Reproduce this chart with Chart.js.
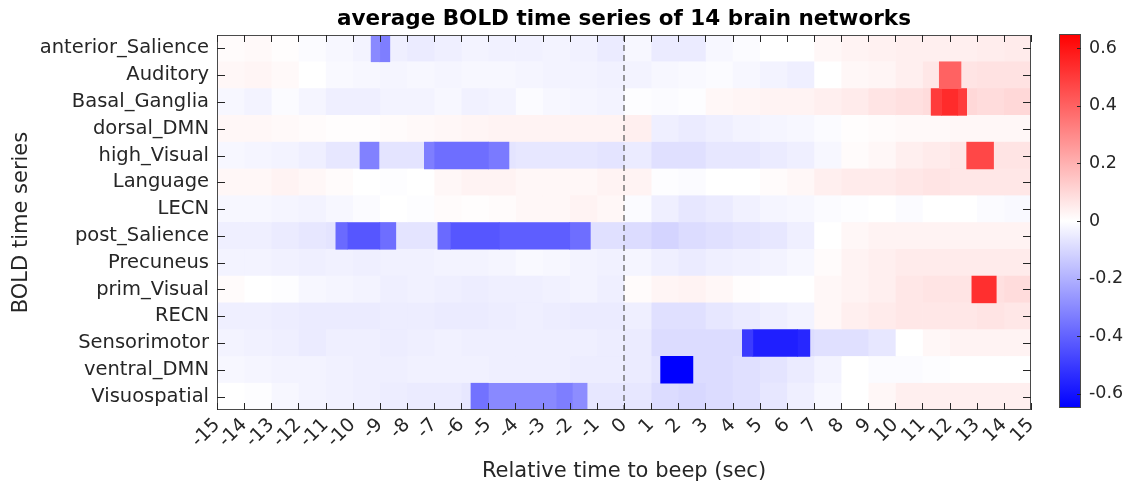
<!DOCTYPE html>
<html><head><meta charset="utf-8">
<script src="https://cdn.jsdelivr.net/npm/chart.js@4/dist/chart.umd.min.js"></script>
<style>html,body{margin:0;padding:0;background:#fff;}#wrap{width:1126px;height:484px;position:relative;}
#c{position:absolute;left:0;top:0;} #cb{position:absolute;left:1040px;top:0;}</style>
</head><body><div id="wrap"><canvas id="c" width="1126" height="484"></canvas><canvas id="cb" width="86" height="484"></canvas></div>
<script>
// ---------- data ----------
const networks = ['anterior_Salience','Auditory','Basal_Ganglia','dorsal_DMN','high_Visual','Language','LECN','post_Salience','Precuneus','prim_Visual','RECN','Sensorimotor','ventral_DMN','Visuospatial'];
const binEdges = [-15,-14,-13,-12,-11,-10,-9,-8,-7,-6,-5,-4,-3,-2,-1,0,1,2,3,4,5,6,7,8,9,10,11,12,13,14,15];
const xTicks = [-15,-14,-13,-12,-11,-10,-9,-8,-7,-6,-5,-4,-3,-2,-1,0,1,2,3,4,5,6,7,8,9,10,11,12,13,14,15];
const colorbarTicks = [-0.6,-0.4,-0.2,0,0.2,0.4,0.6];
const cLim = [-0.65, 0.65];

// one value per 1-s bin (-15..15)
const anterior_Salience = [0.01,0.015,0.005,-0.01,-0.02,-0.03,-0.04,-0.05,-0.04,-0.03,-0.035,-0.035,-0.03,-0.035,-0.05, -0.02,-0.05,-0.05,-0.02,-0.01,0,0,0.02,0.03,0.035,0.04,0.04,0.04,0.045,0.05];
const Auditory = [0.02,0.025,0.015,0,-0.015,-0.02,-0.025,-0.02,-0.025,-0.02,-0.02,-0.025,-0.03,-0.03,-0.035, -0.03,-0.02,-0.015,-0.01,-0.02,-0.03,-0.04,0,0.02,0.025,0.04,0.06,0.07,0.075,0.075];
const Basal_Ganglia = [-0.02,-0.03,-0.01,-0.025,-0.04,-0.04,-0.03,-0.03,-0.02,-0.035,-0.03,-0.01,-0.02,-0.025,-0.03, -0.005,-0.01,-0.005,0.02,0.025,0.03,0.03,0.04,0.05,0.07,0.08,0.09,0.1,0.09,0.1];
const dorsal_DMN = [0.02,0.02,0.015,0.01,0.005,0.005,0.01,0.015,0.02,0.025,0.03,0.03,0.03,0.03,0.03, 0.04,-0.04,-0.05,-0.04,-0.03,-0.025,-0.02,-0.01,0.005,0.01,0.015,0.015,0.02,0.02,0.02];
const high_Visual = [-0.02,-0.025,-0.03,-0.04,-0.06,-0.06,-0.07,-0.07,-0.07,-0.07,-0.07,-0.06,-0.06,-0.06,-0.07, -0.05,-0.08,-0.08,-0.06,-0.06,-0.05,-0.04,-0.02,0.01,0.02,0.04,0.05,0.06,0.07,0.07];
const Language = [0.02,0.02,0.03,0.02,0.01,0,-0.005,0,0.02,0.03,0.03,0.02,0.02,0.02,0.03, 0.03,-0.005,-0.01,0,0,0.01,0.02,0.04,0.05,0.05,0.06,0.07,0.06,0.06,0.06];
const LECN = [-0.02,-0.02,-0.025,-0.03,-0.02,-0.01,0,-0.005,0.01,0.005,0.01,0.02,0.02,0.03,0.02, -0.01,-0.04,-0.06,-0.05,-0.035,-0.025,-0.02,-0.01,-0.005,0,-0.01,0,0,-0.01,-0.015];
const post_Salience = [-0.04,-0.04,-0.05,-0.06,-0.07,-0.07,-0.07,-0.07,-0.07,-0.07,-0.07,-0.07,-0.07,-0.08,-0.08, -0.09,-0.11,-0.09,-0.08,-0.07,-0.06,-0.04,0,0.02,0.03,0.03,0.03,0.03,0.03,0.03];
const Precuneus = [-0.03,-0.03,-0.035,-0.04,-0.035,-0.04,-0.035,-0.035,-0.03,-0.03,-0.025,-0.015,-0.02,-0.03,-0.035, -0.025,-0.04,-0.05,-0.04,-0.035,-0.03,-0.02,0.01,0.03,0.04,0.05,0.05,0.05,0.05,0.05];
const prim_Visual = [0.01,0,-0.005,-0.02,-0.025,-0.03,-0.04,-0.035,-0.04,-0.045,-0.04,-0.04,-0.035,-0.03,-0.04, 0.01,0.025,0.03,0.02,0.005,0,0,0.02,0.03,0.04,0.06,0.07,0.07,0.08,0.09];
const RECN = [-0.04,-0.04,-0.045,-0.05,-0.05,-0.05,-0.045,-0.045,-0.05,-0.05,-0.045,-0.04,-0.045,-0.05,-0.05, -0.04,-0.08,-0.08,-0.06,-0.05,-0.04,-0.03,0.02,0.04,0.05,0.06,0.06,0.06,0.07,0.06];
const Sensorimotor = [-0.03,-0.035,-0.04,-0.05,-0.04,-0.04,-0.045,-0.04,-0.035,-0.04,-0.04,-0.04,-0.04,-0.04,-0.045, -0.05,-0.09,-0.09,-0.09,-0.09,-0.09,-0.09,-0.08,-0.08,-0.06,0,0.02,0.03,0.03,0.03];
const ventral_DMN = [-0.02,-0.025,-0.03,-0.03,-0.035,-0.04,-0.04,-0.035,-0.035,-0.035,-0.04,-0.04,-0.04,-0.045,-0.045, -0.05,-0.07,-0.09,-0.09,-0.08,-0.07,-0.05,-0.03,0,-0.01,-0.01,-0.005,0,0,0];
const Visuospatial = [0,-0.005,-0.02,-0.03,-0.035,-0.04,-0.045,-0.05,-0.05,-0.06,-0.06,-0.06,-0.06,-0.06,-0.06, -0.06,-0.09,-0.1,-0.09,-0.08,-0.06,-0.04,-0.02,0,0.02,0.04,0.04,0.04,0.04,0.04];

const rowValues = [anterior_Salience,Auditory,Basal_Ganglia,dorsal_DMN,high_Visual,Language,LECN,post_Salience,Precuneus,prim_Visual,RECN,Sensorimotor,ventral_DMN,Visuospatial];

// significant stretches: [network, start (s), end (s), value]
const significantBlocks = [
  ['anterior_Salience',-9.32,-9.0,-0.30],['anterior_Salience',-9.0,-8.63,-0.33],
  ['Auditory',11.62,12.42,0.40],
  ['Basal_Ganglia',11.32,11.7,0.50],['Basal_Ganglia',11.7,12.3,0.54],['Basal_Ganglia',12.3,12.63,0.50],
  ['high_Visual',-9.73,-9.03,-0.32],['high_Visual',-7.36,-7.0,-0.33],['high_Visual',-7.0,-5.0,-0.37],['high_Visual',-5.0,-4.24,-0.34],
  ['high_Visual',12.63,13.62,0.47],
  ['post_Salience',-10.62,-10.2,-0.38],['post_Salience',-10.2,-9.0,-0.43],['post_Salience',-9.0,-8.41,-0.37],
  ['post_Salience',-6.86,-6.4,-0.38],['post_Salience',-6.4,-4.6,-0.43],['post_Salience',-4.6,-2.0,-0.41],['post_Salience',-2.0,-1.24,-0.37],
  ['prim_Visual',12.82,13.72,0.53],
  ['Sensorimotor',4.36,4.75,-0.50],['Sensorimotor',4.75,6.4,-0.57],['Sensorimotor',6.4,6.85,-0.55],
  ['ventral_DMN',1.35,2.54,-0.65],
  ['Visuospatial',-5.64,-5.0,-0.36],['Visuospatial',-5.0,-2.5,-0.30],['Visuospatial',-2.5,-1.9,-0.33],['Visuospatial',-1.9,-1.36,-0.29]
];

// ---------- rendering ----------
const FONT = 'DejaVu Sans';
const TXT = '#262626';
function valueColor(v){
  let t = v / cLim[1];
  t = Math.max(-1, Math.min(1, t));
  if (t >= 0){ const g = Math.round(255*(1-t)); return `rgb(255,${g},${g})`; }
  const g = Math.round(255*(1+t)); return `rgb(${g},${g},255)`;
}

const datasets = [];
// significant blocks first so that they are drawn on top
significantBlocks.forEach(b => {
  datasets.push({
    data: networks.map(n => n === b[0] ? [b[1], b[2]] : null),
    backgroundColor: valueColor(b[3])
  });
});
for (let j = 0; j < binEdges.length-1; j++){
  datasets.push({
    data: rowValues.map(() => [binEdges[j], binEdges[j+1]]),
    backgroundColor: rowValues.map(r => valueColor(r[j]))
  });
}

const framePlugin = {
  id: 'frame',
  afterDatasetsDraw(chart){
    const {ctx, chartArea: a, scales} = chart;
    const x = scales.x, y = scales.y;
    ctx.save();
    const x0 = x.getPixelForValue(0);
    ctx.strokeStyle = '#606060'; ctx.lineWidth = 1.3; ctx.setLineDash([6,4]);
    ctx.beginPath(); ctx.moveTo(x0, a.top); ctx.lineTo(x0, a.bottom); ctx.stroke();
    ctx.setLineDash([]);
    ctx.strokeStyle = '#4a4a4a'; ctx.lineWidth = 1;
    ctx.strokeRect(Math.round(a.left)+0.5, Math.round(a.top)+0.5, Math.round(a.right-a.left)-1, Math.round(a.bottom-a.top)-1);
    ctx.strokeStyle = TXT;
    ctx.beginPath();
    xTicks.forEach(v => {
      const px = Math.round(x.getPixelForValue(v))+0.5;
      ctx.moveTo(px, a.top); ctx.lineTo(px, a.top+7);
      ctx.moveTo(px, a.bottom); ctx.lineTo(px, a.bottom-7);
    });
    networks.forEach((n,i) => {
      const py = Math.round(y.getPixelForValue(i))+0.5;
      ctx.moveTo(a.left, py); ctx.lineTo(a.left+8, py);
      ctx.moveTo(a.right, py); ctx.lineTo(a.right-8, py);
    });
    ctx.stroke();
    ctx.restore();
  },
  afterDraw(chart){
    const {ctx, chartArea: a} = chart;
    ctx.save();
    ctx.fillStyle = '#000';
    ctx.font = `bold 21.5px "${FONT}"`;
    ctx.textAlign = 'center'; ctx.textBaseline = 'middle';
    ctx.fillText('average BOLD time series of 14 brain networks', (a.left+a.right)/2, 19);
    ctx.restore();
  }
};

new Chart(document.getElementById('c'), {
  type: 'bar',
  data: { labels: networks, datasets },
  plugins: [framePlugin],
  options: {
    indexAxis: 'y',
    responsive: false, animation: false, devicePixelRatio: 1,
    layout: { padding: { top: 35, left: 0, right: 95, bottom: 0 } },
    plugins: { legend: { display: false }, tooltip: { enabled: false }, title: { display: false } },
    datasets: { bar: { grouped: false, barPercentage: 1, categoryPercentage: 1, borderWidth: 0 } },
    scales: {
      x: {
        type: 'linear', position: 'bottom', min: -15, max: 15,
        afterFit: s => { s.height = 74; },
        afterBuildTicks: s => { s.ticks = xTicks.map(v => ({ value: v })); },
        ticks: { autoSkip: false, minRotation: 45, maxRotation: 45, padding: 4, color: TXT, font: { family: FONT, size: 19 } },
        grid: { display: false, drawTicks: false }, border: { display: false },
        title: { display: true, text: 'Relative time to beep (sec)', color: TXT, font: { family: FONT, size: 21 }, padding: { top: 2, bottom: 0 } }
      },
      y: {
        type: 'category', position: 'left',
        afterFit: s => { s.width = 217; },
        ticks: { padding: 8, color: TXT, font: { family: FONT, size: 19.5 } },
        grid: { display: false, drawTicks: false }, border: { display: false },
        title: { display: true, text: 'BOLD time series', color: TXT, font: { family: FONT, size: 21 }, padding: { top: 9, bottom: 0 } }
      }
    }
  }
});

// ---------- colorbar ----------
const colorbarPlugin = {
  id: 'colorbar',
  beforeDatasetsDraw(chart){
    const {ctx, chartArea: a, scales} = chart;
    const s = scales.y;
    const top = s.getPixelForValue(cLim[1]), bot = s.getPixelForValue(cLim[0]);
    ctx.save();
    const grad = ctx.createLinearGradient(0, top, 0, bot);
    const n = 20;
    for (let k = 0; k <= n; k++){
      const v = cLim[1] - (cLim[1]-cLim[0])*k/n;
      grad.addColorStop(k/n, valueColor(v));
    }
    ctx.fillStyle = grad;
    ctx.fillRect(a.left, top, a.right-a.left, bot-top);
    ctx.strokeStyle = '#4a4a4a'; ctx.lineWidth = 1;
    ctx.strokeRect(Math.round(a.left)+0.5, Math.round(top)+0.5, Math.round(a.right-a.left)-1, Math.round(bot-top)-1);
    ctx.strokeStyle = TXT;
    ctx.beginPath();
    colorbarTicks.forEach(v => {
      const py = Math.round(s.getPixelForValue(v))+0.5;
      ctx.moveTo(a.right, py); ctx.lineTo(a.right-4, py);
    });
    ctx.stroke();
    ctx.restore();
  }
};

new Chart(document.getElementById('cb'), {
  type: 'bar',
  data: { labels: ['colorbar'], datasets: [] },
  plugins: [colorbarPlugin],
  options: {
    responsive: false, animation: false, devicePixelRatio: 1,
    layout: { padding: { top: 34, bottom: 76, left: 19, right: 0 } },
    plugins: { legend: { display: false }, tooltip: { enabled: false } },
    scales: {
      x: { display: false },
      y: {
        type: 'linear', position: 'right', min: cLim[0], max: cLim[1],
        afterFit: s => { s.width = 45; },
        afterBuildTicks: s => { s.ticks = colorbarTicks.map(v => ({ value: v })); },
        ticks: { padding: 8, color: TXT, font: { family: FONT, size: 17.5 }, callback: v => String(v) },
        grid: { display: false, drawTicks: false }, border: { display: false }
      }
    }
  }
});
</script>
</body></html>
